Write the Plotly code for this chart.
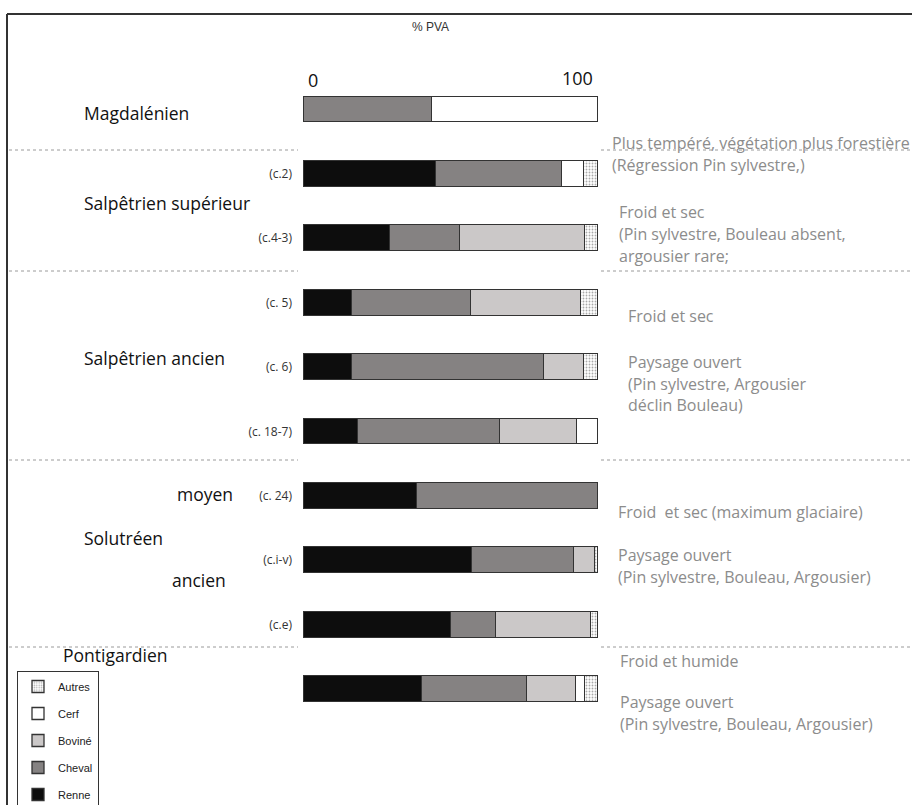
import plotly.graph_objects as go

W, H = 912, 805

# rows, top to bottom
rows = ["Magdalénien", "(c.2)", "(c.4-3)", "(c. 5)", "(c. 6)", "(c. 18-7)",
        "(c. 24)", "(c.i-v)", "(c.e)", "Pontigardien"]
row_labels = ["", "(c.2)", "(c.4-3)", "(c. 5)", "(c. 6)", "(c. 18-7)",
              "(c. 24)", "(c.i-v)", "(c.e)", ""]

# % PVA per species
renne = [0, 44.9, 29.3, 16.3, 16.3, 18.2, 38.3, 57.0, 49.9, 40.0]
cheval = [43.4, 42.8, 23.8, 40.6, 65.5, 48.6, 61.7, 34.8, 15.3, 35.7]
bovine = [0, 0, 42.5, 37.2, 13.6, 25.9, 0, 7.1, 32.3, 16.8]
cerf = [56.6, 7.6, 0, 0, 0, 7.2, 0, 0, 0, 3.1]
autres = [0, 4.8, 4.4, 5.9, 4.5, 0, 0, 1.1, 2.5, 4.4]

series = [
    ("Renne", renne, "#0d0d0d", ""),
    ("Cheval", cheval, "#858282", ""),
    ("Boviné", bovine, "#cbc8c8", ""),
    ("Cerf", cerf, "#ffffff", ""),
    ("Autres", autres, "#ffffff", "."),
]

fig = go.Figure()
for i, (name, vals, col, pat) in enumerate(series):
    fig.add_trace(go.Bar(
        y=rows, x=vals, name=name, orientation="h",
        legendgroup=name, legendrank=len(series) - i,
        width=0.4,
        marker=dict(color=col, line=dict(color="#333333", width=1.3),
                    pattern=dict(shape=pat, fgcolor="#555555", bgcolor="#ffffff",
                                 size=3, solidity=0.3) if pat else None),
        hoverinfo="x+name",
    ))

def px(x):
    return x / W

def py(y):
    return 1 - y / H

ann = []
# group labels on the left
groups = [
    ("Magdalénien", 82, 113), ("Salpêtrien supérieur", 82, 203),
    ("Salpêtrien ancien", 82, 358), ("moyen", 175, 494),
    ("Solutréen", 82, 538), ("ancien", 170, 580), ("Pontigardien", 61, 655),
]
for t, x, y in groups:
    ann.append(dict(text=t, x=px(x), y=py(y), xref="paper", yref="paper",
                    xanchor="left", yanchor="middle", showarrow=False,
                    font=dict(family="Open Sans", size=17.5, color="#111111")))

# climate notes on the right
notes = [
    ("Plus tempéré, végétation plus forestière", 610, 143),
    ("(Régression Pin sylvestre,)", 610, 165),
    ("Froid et sec", 617, 212),
    ("(Pin sylvestre, Bouleau absent,", 617, 234),
    ("argousier rare;", 617, 256),
    ("Froid et sec", 626, 316),
    ("Paysage ouvert", 626, 362),
    ("(Pin sylvestre, Argousier", 626, 384),
    ("déclin Bouleau)", 626, 405),
    ("Froid\u00a0 et sec (maximum glaciaire)", 616, 512),
    ("Paysage ouvert", 616, 555),
    ("(Pin sylvestre, Bouleau, Argousier)", 616, 577),
    ("Froid et humide", 618, 661),
    ("Paysage ouvert", 618, 702),
    ("(Pin sylvestre, Bouleau, Argousier)", 618, 724),
]
for t, x, y in notes:
    ann.append(dict(text=t, x=px(x), y=py(y), xref="paper", yref="paper",
                    xanchor="left", yanchor="middle", showarrow=False,
                    font=dict(family="Open Sans", size=16, color="#8c8c8c")))

ann += [
    dict(text="% PVA", x=px(430), y=py(27), xref="paper", yref="paper",
         xanchor="center", yanchor="middle", showarrow=False,
         font=dict(family="Liberation Sans Narrow, Liberation Sans", size=12, color="#333333")),
    dict(text="0", x=px(313), y=py(80), xref="paper", yref="paper",
         xanchor="center", yanchor="middle", showarrow=False,
         font=dict(family="Open Sans", size=18, color="#111111")),
    dict(text="100", x=px(577), y=py(78), xref="paper", yref="paper",
         xanchor="center", yanchor="middle", showarrow=False,
         font=dict(family="Open Sans", size=18, color="#111111")),
]

shapes = [
    dict(type="line", xref="paper", yref="paper", x0=px(7), y0=0, x1=px(7), y1=py(14),
         line=dict(color="#333333", width=2)),
    dict(type="line", xref="paper", yref="paper", x0=px(7), y0=py(14), x1=1, y1=py(14),
         line=dict(color="#333333", width=2)),
]
for y in [150, 271, 460, 647]:
    for x0, x1 in [(9, 298), (601, 912)]:
        shapes.append(dict(type="line", xref="paper", yref="paper",
                           x0=px(x0), x1=px(x1), y0=py(y), y1=py(y),
                           line=dict(color="#9a9a9a", width=1, dash="3px,3px")))

fig.update_layout(
    width=W, height=H,
    margin=dict(l=0, r=0, t=0, b=0, autoexpand=False),
    paper_bgcolor="white", plot_bgcolor="white",
    barmode="stack", bargap=0,
    showlegend=True,
    legend=dict(x=px(17), y=py(671), xanchor="left", yanchor="top",
                traceorder="grouped", tracegroupgap=8,
                bordercolor="#333333", borderwidth=1, bgcolor="white",
                itemwidth=30,
                font=dict(family="Liberation Sans Narrow, Liberation Sans", size=11, color="#222222")),
    xaxis=dict(domain=[px(300), px(602)], range=[-1.36, 101.36],
               showgrid=False, zeroline=False, showticklabels=False, showline=False),
    yaxis=dict(domain=[0, 1], range=[10.80, -1.70], type="category",
               categoryorder="array", categoryarray=rows,
               tickvals=rows, ticktext=row_labels, ticklabelstandoff=7,
               showgrid=False, zeroline=False, showline=False, ticks="",
               tickfont=dict(family="Open Sans", size=12, color="#333333")),
    annotations=ann, shapes=shapes,
)

fig.write_html("out.html", config={"displayModeBar": False},
               post_script="document.body.style.margin='0px';")
